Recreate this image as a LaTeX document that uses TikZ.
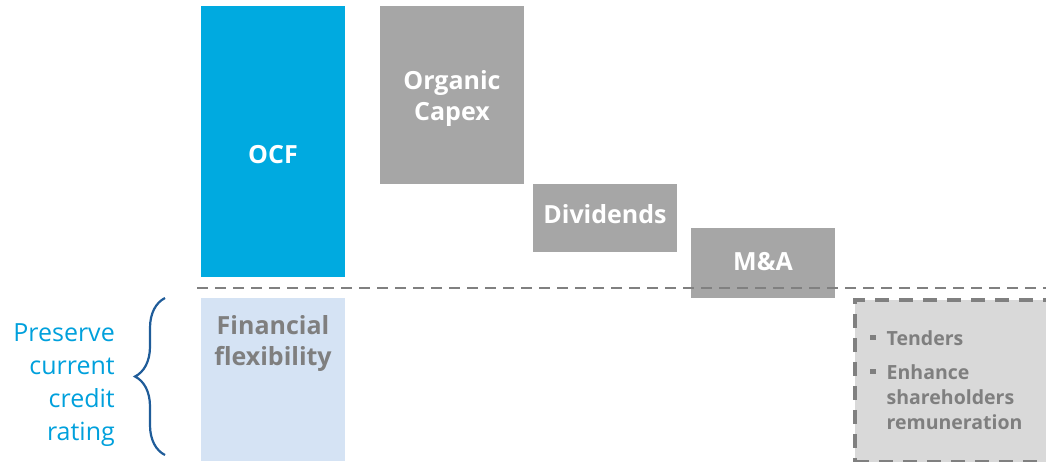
\documentclass[tikz,border=0pt]{standalone}
\usepackage{fontspec}
\setmainfont{Open Sans}
\usetikzlibrary{decorations.pathreplacing}

\definecolor{ocfblue}{HTML}{00AAE0}
\definecolor{usegray}{HTML}{A6A6A6}
\definecolor{flexblue}{HTML}{D5E3F4}
\definecolor{extragray}{HTML}{D9D9D9}
\definecolor{linegray}{HTML}{808080}
\definecolor{txtgray}{HTML}{7F7F7F}
\definecolor{ratingblue}{HTML}{00A0DC}
\definecolor{braceblue}{HTML}{1F5C99}

\newcommand{\bulletsq}{\raisebox{5pt}{\rule{5.5pt}{5.5pt}}\hspace{11pt}}

\begin{document}
\begin{tikzpicture}[
	x=1pt, y=-1pt,
	bar/.style={ rectangle, inner sep=0pt, minimum width=144pt },
	usebar/.style={ bar, fill=usegray },
	lbl/.style={ text=white, align=center, font=\bfseries\fontsize{25}{31}\selectfont }
]
\useasboundingbox (0,0) rectangle (1046,461);

% sources
\node at (273,141.5) (ocf) [bar, fill=ocfblue, minimum height=271pt] {};
\node at (273,155) (ocftxt) [lbl] {OCF};
\node at (273,379.5) (flex) [bar, fill=flexblue, minimum height=163pt] {};
\node at (273,343) (flextxt) [lbl, text=txtgray] {Financial\\flexibility};

% uses
\node at (452,95) (capex) [usebar, minimum height=178pt] {};
\node at (452,99) (capextxt) [lbl] {Organic\\Capex};
\node at (605,218) (div) [usebar, minimum height=68pt] {};
\node at (605,214) (divtxt) [lbl] {Dividends};
\node at (763,263) (ma) [usebar, minimum height=70pt] {};
\node at (763,262) (matxt) [lbl] {M\&A};

% separator
\coordinate (sepl) at (197,288);
\coordinate (sepr) at (1046,288);
\draw [linegray, line width=2pt, dash pattern=on 11pt off 7pt] (sepl) -- (sepr);

% extra cash
\node at (853,298) (extra) [anchor=north west, rectangle, inner sep=0pt, minimum width=200pt, minimum height=162pt, fill=extragray, draw=linegray, line width=3.5pt, dash pattern=on 14pt off 10pt] {};
\node at (870,330) (extratxt) [anchor=north west, inner sep=0pt, text=txtgray, align=left, font=\bfseries\fontsize{19.5}{25}\selectfont] {%
	\bulletsq Tenders\\[9pt]
	\bulletsq Enhance\\
	\hspace{16.5pt}shareholders\\
	\hspace{16.5pt}remuneration};

% rating
\coordinate (brb) at (165,455);
\coordinate (brt) at (165,298);
\draw [braceblue, line width=2.2pt, decorate, decoration={brace, amplitude=30pt}] (brb) -- (brt);
\node at (115,385) (rating) [anchor=east, inner sep=0pt, text=ratingblue, align=right, font=\fontsize{25}{33}\selectfont] {Preserve\\current\\credit\\rating};

\end{tikzpicture}
\end{document}
